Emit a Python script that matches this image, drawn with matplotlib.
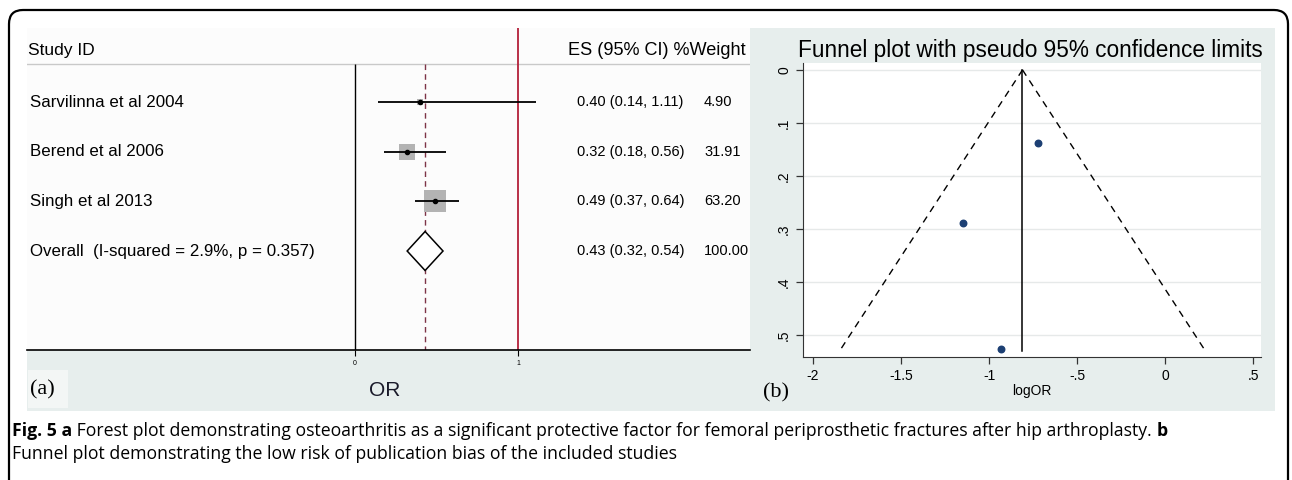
import matplotlib.pyplot as plt
import numpy as np
from matplotlib.patches import Rectangle, Polygon, FancyBboxPatch

W, H = 1292, 480

# forest plot data
studies = ["Sarvilinna et al 2004", "Berend et al 2006", "Singh et al 2013"]
es = [0.40, 0.32, 0.49]
ci_lo = [0.14, 0.18, 0.37]
ci_hi = [1.11, 0.56, 0.64]
weight = [4.90, 31.91, 63.20]
overall_label = "Overall  (I-squared = 2.9%, p = 0.357)"
overall_es, overall_lo, overall_hi = 0.43, 0.32, 0.54
overall_weight = 100.00

# funnel plot data
log_or = [-0.72, -1.15, -0.93]
se_log_or = [0.138, 0.289, 0.527]
pooled_log_or = -0.81
funnel_se_max = 0.53
funnel_xticks = [-2, -1.5, -1, -0.5, 0, 0.5]
funnel_xticklabels = ["-2", "-1.5", "-1", "-.5", "0", ".5"]
funnel_yticks = [0, 0.1, 0.2, 0.3, 0.4, 0.5]
funnel_yticklabels = ["0", ".1", ".2", ".3", ".4", ".5"]

plt.rcParams['font.family'] = ['Liberation Sans', 'DejaVu Sans']

fig = plt.figure(figsize=(W / 100, H / 100), dpi=100)


def px_axes(x0, y0, x1, y1, z=1):
    return fig.add_axes([x0 / W, 1 - y1 / H, (x1 - x0) / W, (y1 - y0) / H], zorder=z)


# background layer in pixel coordinates
bg = px_axes(0, 0, W, H, z=0)
bg.set_xlim(0, W)
bg.set_ylim(H, 0)
bg.axis('off')
bg.add_patch(FancyBboxPatch((9, 10), 1279, 500, boxstyle="round,pad=0,rounding_size=14",
                            fc='white', ec='black', lw=1.6, clip_on=True))
bg.add_patch(Rectangle((27, 350), 723, 61, fc='#e7eeed', ec='none'))
bg.add_patch(Rectangle((750, 28), 525, 383, fc='#e7eeed', ec='none'))
bg.add_patch(Rectangle((28, 370), 40, 38, fc='#f3f6f5', ec='none'))
bg.text(30, 390, "(a)", fontsize=16, family='Liberation Serif', va='center', ha='left')
bg.text(385, 391, "OR", fontsize=15, va='center', ha='center', color='#1a1a2a')
bg.text(763, 393, "(b)", fontsize=16, family='Liberation Serif', va='center', ha='left')

# caption
cap_font = ['Open Sans', 'DejaVu Sans']
t1 = bg.text(12, 431, "Fig. 5 a", fontsize=12.7, fontweight='bold', family=cap_font, va='center')
t2 = bg.annotate(" Forest plot demonstrating osteoarthritis as a significant protective factor "
                 "for femoral periprosthetic fractures after hip arthroplasty. ",
                 xy=(1, 0), xycoords=t1, va='bottom', fontsize=12.7, family=cap_font)
bg.annotate("b", xy=(1, 0), xycoords=t2, va='bottom', fontsize=12.7, fontweight='bold', family=cap_font)
bg.text(12, 454, "Funnel plot demonstrating the low risk of publication bias of the included studies",
        fontsize=12.7, family=cap_font, va='center')

# ---- forest plot ----
ax = px_axes(27, 28, 750, 350)
ax.set_facecolor('#fcfcfc')
x_left, x_right = -328 / 163, 395 / 163
row_px = 49.67
ax.set_xlim(x_left, x_right)
ax.set_ylim(1 + 248 / row_px, 1 - 74 / row_px)
for s in ['top', 'right', 'left']:
    ax.spines[s].set_visible(False)
ax.spines['bottom'].set_linewidth(1.2)
ax.set_yticks([])
ax.set_xticks([0, 1])
ax.set_xticklabels(["0", "1"], fontsize=5)
ax.tick_params(axis='x', length=4, width=0.8, pad=3)

head_y = 1 - 52 / row_px
line_y = 1 - 38 / row_px
ax.axhline(line_y, color='#c9c9c9', lw=1)
ax.text(x_left + 1 / 163, head_y, "Study ID", fontsize=12.5, va='center')
ax.text(1.307, head_y, "ES (95% CI) %Weight", fontsize=13.1, va='center')

ymax = ax.get_ylim()[0]
ax.vlines(0, line_y, ymax, color='black', lw=1)
ax.axvline(1, color='#b3203a', lw=1.3)
ax.vlines(overall_es, line_y, ymax, color='#7d3447', lw=1, linestyles=(0, (4, 3)))

rows = np.arange(1, len(studies) + 1)
for r, name, e, lo, hi, w in zip(rows, studies, es, ci_lo, ci_hi, weight):
    ax.text(x_left + 3 / 163, r, name, fontsize=12.2, va='center')
    side_pt = 2.66 * np.sqrt(w) * 0.72
    ax.scatter([e], [r], marker='s', s=side_pt ** 2, color='#b3b3b3', zorder=2, linewidths=0)
    ax.hlines(r, lo, hi, color='black', lw=1.3, zorder=3)
    ax.scatter([e], [r], s=9, color='black', zorder=4)
    ax.text(1.362, r, f"{e:.2f} ({lo:.2f}, {hi:.2f})", fontsize=10.5, va='center')
    ax.text(2.141, r, f"{w:.2f}", fontsize=10.5, va='center')

r_ov = len(studies) + 1
h = 19.5 / row_px
ax.add_patch(Polygon([(overall_lo, r_ov), (overall_es, r_ov - h), (overall_hi, r_ov),
                      (overall_es, r_ov + h)], closed=True, fc='white', ec='black', lw=1.1, zorder=3))
ax.text(x_left + 3 / 163, r_ov, overall_label, fontsize=12.2, va='center')
ax.text(1.362, r_ov, f"{overall_es:.2f} ({overall_lo:.2f}, {overall_hi:.2f})", fontsize=10.5, va='center')
ax.text(2.141, r_ov, f"{overall_weight:.2f}", fontsize=10.5, va='center')

# ---- funnel plot ----
fx = px_axes(803, 63, 1261, 357)
fx.set_facecolor('white')
fx.set_xlim(-2.057, 0.545)
fx.set_ylim(0.5415, -0.013)
fx.set_xticks(funnel_xticks)
fx.set_xticklabels(funnel_xticklabels, fontsize=10)
fx.set_yticks(funnel_yticks)
fx.set_yticklabels(funnel_yticklabels, fontsize=10, rotation=90, va='center')
fx.tick_params(length=5, width=0.9, color='#333333')
for s in ['top', 'right']:
    fx.spines[s].set_visible(False)
for s in ['left', 'bottom']:
    fx.spines[s].set_color('#333333')
fx.grid(axis='y', color='#e6e9e9', lw=1)
fx.set_axisbelow(True)
fx.set_xlabel("logOR", fontsize=10, labelpad=1)

se_line = np.array([0, funnel_se_max])
fx.plot(pooled_log_or - 1.96 * se_line, se_line, color='black', lw=1, ls=(0, (5, 4)))
fx.plot(pooled_log_or + 1.96 * se_line, se_line, color='black', lw=1, ls=(0, (5, 4)))
fx.plot([pooled_log_or, pooled_log_or], se_line, color='black', lw=1.1)
fx.scatter(log_or, se_log_or, s=22, color='#1c3f73', zorder=3)

fig.text(1030 / W, 1 - 50 / H, "Funnel plot with pseudo 95% confidence limits",
         fontsize=16.3, ha='center', va='center')

fig.savefig("out.png", dpi=100)
